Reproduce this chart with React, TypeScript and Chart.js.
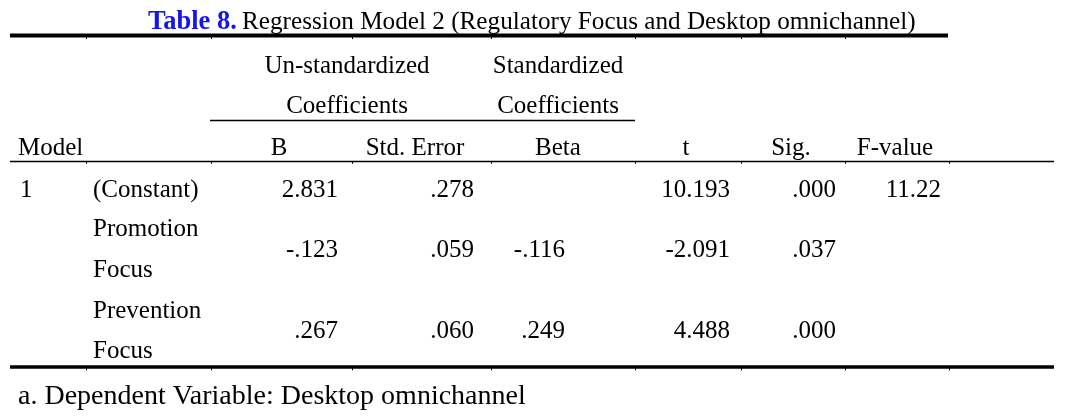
import React, { useEffect, useRef } from "react";
import { Chart, registerables } from "chart.js";

Chart.register(...registerables);

// ---- data ----
const tableLabel = "Table 8.";
const tableTitle = "Regression Model 2 (Regulatory Focus and Desktop omnichannel)";
const groupHeaders = [
  ["Un-standardized", "Coefficients"],
  ["Standardized", "Coefficients"],
];
const columnHeaders = ["Model", "B", "Std. Error", "Beta", "t", "Sig.", "F-value"];
const modelNumber = "1";
const predictors = [["(Constant)"], ["Promotion", "Focus"], ["Prevention", "Focus"]];
const bValues = [2.831, -0.123, 0.267];
const stdErrorValues = [0.278, 0.059, 0.06];
const betaValues: (number | null)[] = [null, -0.116, 0.249];
const tValues = [10.193, -2.091, 4.488];
const sigValues = [0.0, 0.037, 0.0];
const fValues: (number | null)[] = [11.22, null, null];
const footnote = "a. Dependent Variable: Desktop omnichannel";

// ---- layout (pixel space mapped through linear scales) ----
const W = 1065;
const H = 419;
const FONT = "'Liberation Serif', 'Times New Roman', serif";

const fmt3 = (v: number) => v.toFixed(3).replace(/^(-?)0\./, "$1.");

type TextItem = {
  text: string;
  x: number;
  y: number;
  align: CanvasTextAlign;
  font: string;
  color: string;
};
type LineItem = { x1: number; x2: number; y: number; w: number };

function buildItems() {
  const items: TextItem[] = [];
  const body = `25px ${FONT}`;
  const black = "#000";
  // title
  items.push({ text: tableLabel, x: 148, y: 29, align: "left", font: `bold 26.5px ${FONT}`, color: "#1414ee" });
  items.push({ text: tableTitle, x: 242, y: 29, align: "left", font: `25.2px ${FONT}`, color: black });
  // group headers
  const groupCenters = [347, 558];
  groupHeaders.forEach((g, i) => {
    items.push({ text: g[0], x: groupCenters[i], y: 73, align: "center", font: body, color: black });
    items.push({ text: g[1], x: groupCenters[i], y: 113, align: "center", font: body, color: black });
  });
  // column headers
  const headX = [18, 279, 415, 558, 686, 791, 895];
  columnHeaders.forEach((h, i) => {
    items.push({ text: h, x: headX[i], y: 155, align: i === 0 ? "left" : "center", font: body, color: black });
  });
  // rows
  items.push({ text: modelNumber, x: 20, y: 197, align: "left", font: body, color: black });
  const labelBase = [[197], [236, 277], [318, 358]];
  const valueBase = [197, 257, 338];
  predictors.forEach((p, r) => {
    p.forEach((line, k) => {
      items.push({ text: line, x: 93, y: labelBase[r][k], align: "left", font: body, color: black });
    });
    const y = valueBase[r];
    items.push({ text: fmt3(bValues[r]), x: 338, y, align: "right", font: body, color: black });
    items.push({ text: fmt3(stdErrorValues[r]), x: 474, y, align: "right", font: body, color: black });
    const b = betaValues[r];
    if (b !== null) items.push({ text: fmt3(b), x: 565, y, align: "right", font: body, color: black });
    items.push({ text: fmt3(tValues[r]), x: 730, y, align: "right", font: body, color: black });
    items.push({ text: fmt3(sigValues[r]), x: 836, y, align: "right", font: body, color: black });
    const f = fValues[r];
    if (f !== null) items.push({ text: f.toFixed(2), x: 941, y, align: "right", font: body, color: black });
  });
  items.push({ text: footnote, x: 18, y: 404, align: "left", font: `28px ${FONT}`, color: black });
  return items;
}

const rules: LineItem[] = [
  { x1: 10, x2: 948, y: 35.5, w: 4 },
  { x1: 210, x2: 635, y: 120.5, w: 1.5 },
  { x1: 10, x2: 1054, y: 161.5, w: 1.5 },
  { x1: 10, x2: 1054, y: 367, w: 3.5 },
];
const tickCols = [86, 211, 352, 491, 635, 741, 845, 949];

const tablePlugin = {
  id: "tableDraw",
  afterDraw(chart: any) {
    const { ctx, scales } = chart;
    const xs = scales.x;
    const ys = scales.y;
    const px = (v: number) => xs.getPixelForValue(v);
    const py = (v: number) => ys.getPixelForValue(v);
    ctx.save();
    ctx.strokeStyle = "#000";
    rules.forEach((r) => {
      ctx.lineWidth = r.w;
      ctx.beginPath();
      ctx.moveTo(px(r.x1), py(r.y));
      ctx.lineTo(px(r.x2), py(r.y));
      ctx.stroke();
    });
    // small column ticks under rules
    ctx.lineWidth = 1;
    [rules[0], rules[2], rules[3]].forEach((r) => {
      tickCols.forEach((c) => {
        if (c > r.x2) return;
        ctx.beginPath();
        ctx.moveTo(px(c) + 0.5, py(r.y));
        ctx.lineTo(px(c) + 0.5, py(r.y + r.w / 2 + 1.5));
        ctx.stroke();
      });
    });
    ctx.textBaseline = "alphabetic";
    buildItems().forEach((t) => {
      ctx.font = t.font;
      ctx.fillStyle = t.color;
      ctx.textAlign = t.align;
      ctx.fillText(t.text, px(t.x), py(t.y));
    });
    ctx.restore();
  },
};

export default function App() {
  const ref = useRef<HTMLCanvasElement | null>(null);
  useEffect(() => {
    if (!ref.current) return;
    const chart = new Chart(ref.current, {
      type: "scatter",
      data: { datasets: [{ data: [], pointRadius: 0 }] },
      options: {
        animation: false,
        responsive: false,
        maintainAspectRatio: false,
        layout: { padding: 0 },
        plugins: { legend: { display: false }, tooltip: { enabled: false } },
        scales: {
          x: { type: "linear", min: 0, max: W, display: false },
          y: { type: "linear", min: 0, max: H, reverse: true, display: false },
        },
      },
      plugins: [tablePlugin],
    });
    return () => chart.destroy();
  }, []);
  return (
    <div style={{ position: "fixed", left: 0, top: 0, width: W, height: H, background: "#fff" }}>
      <canvas ref={ref} width={W} height={H} style={{ width: W, height: H, display: "block" }} />
    </div>
  );
}
